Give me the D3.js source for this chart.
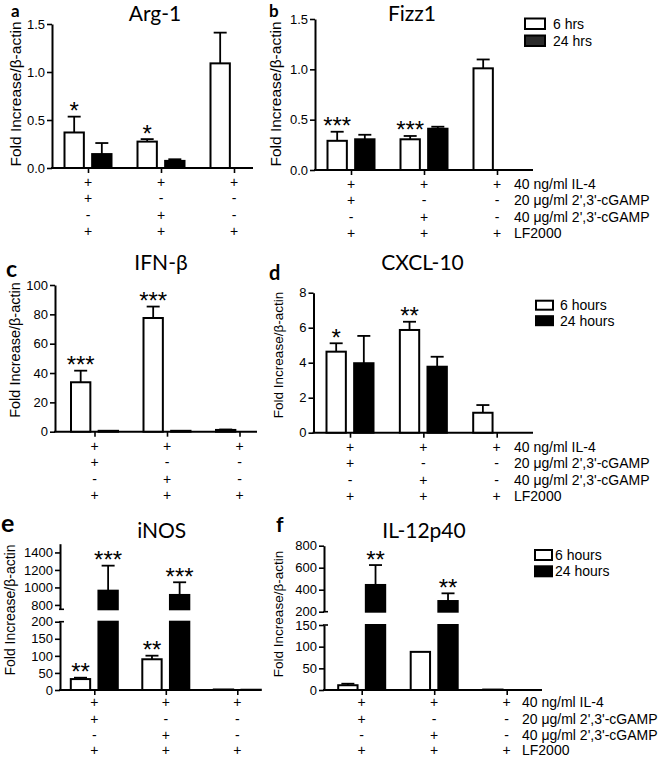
<!DOCTYPE html>
<html><head><meta charset="utf-8">
<script src="https://cdn.jsdelivr.net/npm/d3@7"></script>
<style>body{margin:0;background:#fff} svg{display:block} text.ar{font-family:"Liberation Sans", Arial, sans-serif}</style>
</head><body><svg id="c" width="658" height="757"></svg>
<script>
// ---------- DATA ----------
const groups = ["G1", "G2", "G3"];
const seriesNames = ["early", "late"];
const rowLabels = ["40 ng/ml IL-4", "20 \u03bcg/ml 2',3'-cGAMP", "40 \u03bcg/ml 2',3'-cGAMP", "LF2000"];
const rowSigns = [["+","+","+"], ["+","-","-"], ["-","+","-"], ["+","+","+"]];
const legendHrs = ["6 hrs", "24 hrs"];
const legendHours = ["6 hours", "24 hours"];
const yTitle = "Fold Increase/\u03b2-actin";

const argWhite = [0.37, 0.275, 1.09],  argWhiteErr = [0.165, 0.026, 0.32];
const argBlack = [0.145, 0.074, null], argBlackErr = [0.115, 0.017, null];
const fizzWhite = [0.29, 0.305, 1.01], fizzWhiteErr = [0.09, 0.033, 0.088];
const fizzBlack = [0.305, 0.41, null], fizzBlackErr = [0.045, 0.02, null];
const ifnWhite = [33.7, 77.5, 1.2],    ifnWhiteErr = [7.9, 7.8, 0.3];
const ifnBlack = [0.6, 0.6, null],     ifnBlackErr = [null, null, null];
const cxclWhite = [4.63, 5.87, 1.14],  cxclWhiteErr = [0.48, 0.47, 0.44];
const cxclBlack = [3.97, 3.77, null],  cxclBlackErr = [1.56, 0.57, null];
const inosWhite = [32, 90, 1.5],       inosWhiteErr = [4, 10.5, null];
const inosBlack = [963, 914, 0.8],     inosBlackErr = [286, 145, null];
const il12White = [11, 88, 1],         il12WhiteErr = [3.5, null, null];
const il12Black = [443, 297, null],    il12BlackErr = [181, 70, null];

const argStars = [[0,0,"*"], [1,0,"*"]];
const fizzStars = [[0,0,"***"], [1,0,"***"]];
const ifnStars = [[0,0,"***"], [1,0,"***"]];
const cxclStars = [[0,0,"*"], [1,0,"**"]];
const inosStars = [[0,0,"**"], [0,1,"***"], [1,0,"**"], [1,1,"***"]];
const il12Stars = [[0,1,"**"], [1,1,"**"]];

const ticksFrac = [0, 0.5, 1.0, 1.5];
const ticksIfn = [0, 20, 40, 60, 80, 100];
const ticksCxcl = [0, 2, 4, 6, 8];
const ticksInosLow = [0, 50, 100, 150, 200], ticksInosHigh = [800, 1000, 1200, 1400];
const ticksIlLow = [0, 50, 100, 150], ticksIlHigh = [200, 400, 600, 800];

// ---------- LAYOUT ----------
const TFONT = "Lato, 'Open Sans', sans-serif";
const rowOffsetsTop = [14, 30, 47, 63];
const rowOffsetsBottom = [12.5, 29, 45.5, 60];
const f1 = d3.format(".1f"), fd = d3.format("d");

const panels = [
  {letter:"a", lp:[11,17], ls:17, title:"Arg-1", tp:[155,21], axisX:52,
   segs:[{domain:[0,1.5], range:[168,24], ticks:ticksFrac, fmt:f1}],
   gx:[88,234], xEnd:253, white:argWhite, whiteErr:argWhiteErr, black:argBlack, blackErr:argBlackErr,
   stars:argStars, yl:[16,94,15.5], ro:rowOffsetsTop},
  {letter:"b", lp:[269,17], ls:17, title:"Fizz1", tp:[412,21], axisX:315,
   segs:[{domain:[0,1.5], range:[170,19], ticks:ticksFrac, fmt:f1}],
   gx:[351,497], xEnd:533, white:fizzWhite, whiteErr:fizzWhiteErr, black:fizzBlack, blackErr:fizzBlackErr,
   stars:fizzStars, yl:[276,94,15.5], rows:true, rowX:514, ro:rowOffsetsTop,
   legend:{x:525, y:18.5, w:20, h:10.5, step:17, tx:553, labels:legendHrs, dark:"#2b2b2b"}},
  {letter:"c", lp:[6,277], ls:23, title:"IFN-\u03b2", tp:[161,270], axisX:55,
   segs:[{domain:[0,100], range:[431.7,285], ticks:ticksIfn, fmt:fd}],
   gx:[94.5,239.5], xEnd:257, white:ifnWhite, whiteErr:ifnWhiteErr, black:ifnBlack, blackErr:ifnBlackErr,
   stars:ifnStars, yl:[15,350,14.5], ro:rowOffsetsTop},
  {letter:"d", lp:[269,280], ls:20, title:"CXCL-10", tp:[422.5,270], axisX:313.5,
   segs:[{domain:[0,8], range:[432.7,292.7], ticks:ticksCxcl, fmt:fd}],
   gx:[350,496.7], xEnd:533, white:cxclWhite, whiteErr:cxclWhiteErr, black:cxclBlack, blackErr:cxclBlackErr,
   stars:cxclStars, yl:[278,355,13.5], rows:true, rowX:514, ro:rowOffsetsTop,
   legend:{x:536, y:300.7, w:17, h:9, step:15.5, tx:560, labels:legendHours, dark:"#000"}},
  {letter:"e", lp:[1,532], ls:25, title:"iNOS", tp:[161.7,538], axisX:60,
   segs:[{domain:[0,200], range:[690,621.7], ticks:ticksInosLow, fmt:fd},
         {domain:[750,1500], range:[609.3,543.7], ticks:ticksInosHigh, fmt:fd}],
   gx:[94.3,237.3], xEnd:258, white:inosWhite, whiteErr:inosWhiteErr, black:inosBlack, blackErr:inosBlackErr,
   stars:inosStars, yl:[10,610,14], ro:rowOffsetsBottom},
  {letter:"f", lp:[276,532], ls:21, title:"IL-12p40", tp:[424,538], axisX:324,
   segs:[{domain:[0,150], range:[690,625], ticks:ticksIlLow, fmt:fd},
         {domain:[200,800], range:[611.7,545.7], ticks:ticksIlHigh, fmt:fd}],
   gx:[361.7,506.7], xEnd:542, white:il12White, whiteErr:il12WhiteErr, black:il12Black, blackErr:il12BlackErr,
   stars:il12Stars, yl:[278,614,13.5], rows:true, rowX:522, ro:rowOffsetsBottom,
   legend:{x:535, y:550, w:17, h:10, step:16.3, tx:555, labels:legendHours, dark:"#000"}}
];

const svg = d3.select("#c");

function drawPanel(p) {
  const g = svg.append("g");
  const x = d3.scalePoint().domain(groups).range(p.gx);
  const sub = d3.scaleBand().domain(seriesNames).range([-23.5, 23.5]).paddingInner(0.3);
  const segs = p.segs.map(s => Object.assign({}, s, {scale: d3.scaleLinear().domain(s.domain).range(s.range)}));
  const low = segs[0], high = segs[1];
  const y0 = low.scale(0);
  const yOf = v => (high && v > low.domain[1]) ? high.scale(v) : low.scale(v);

  segs.forEach(s => {
    const ax = g.append("g").attr("transform", `translate(${p.axisX},0)`)
      .call(d3.axisLeft(s.scale).tickValues(s.ticks).tickFormat(s.fmt).tickSize(5).tickSizeOuter(0).tickPadding(2));
    ax.attr("font-family", null).attr("font-size", null);
    ax.select(".domain").attr("stroke-width", 2).attr("stroke", "#000");
    ax.selectAll(".tick line").attr("stroke-width", 1.6).attr("stroke", "#000");
    ax.selectAll(".tick text").attr("class", "ar").attr("font-size", 13).attr("fill", "#000");
  });
  if (high) {
    [high.range[0], low.range[1]].forEach(yy => {
      g.append("line").attr("x1", p.axisX - 1).attr("x2", p.axisX + 4).attr("y1", yy).attr("y2", yy)
        .attr("stroke", "#000").attr("stroke-width", 1.6);
    });
  }
  g.append("line").attr("x1", p.axisX - 1).attr("x2", p.xEnd).attr("y1", y0).attr("y2", y0)
    .attr("stroke", "#000").attr("stroke-width", 2);
  const xa = g.append("g").attr("transform", `translate(0,${y0})`)
    .call(d3.axisBottom(x).tickSize(5).tickFormat(""));
  xa.select(".domain").remove();
  xa.selectAll(".tick line").attr("stroke-width", 1.6).attr("stroke", "#000");

  const series = [
    {name: seriesNames[0], vals: p.white, errs: p.whiteErr, fill: "#fff"},
    {name: seriesNames[1], vals: p.black, errs: p.blackErr, fill: "#000"}
  ];
  const bw = sub.bandwidth();
  const bars = g.append("g");
  series.forEach(s => {
    groups.forEach((gr, i) => {
      const v = s.vals[i];
      if (v == null) return;
      const bx = x(gr) + sub(s.name);
      const cx = bx + bw / 2;
      const e = s.errs[i];
      if (e) {
        const yt = yOf(v + e), yb = yOf(v);
        bars.append("line").attr("x1", cx).attr("x2", cx).attr("y1", yb).attr("y2", yt)
          .attr("stroke", "#000").attr("stroke-width", 1.8);
        bars.append("line").attr("x1", cx - 6.5).attr("x2", cx + 6.5).attr("y1", yt).attr("y2", yt)
          .attr("stroke", "#000").attr("stroke-width", 1.8);
      }
      const lowTop = low.scale(Math.min(v, low.domain[1]));
      bars.append("rect").attr("x", bx).attr("y", lowTop).attr("width", bw).attr("height", Math.max(0, y0 - lowTop))
        .attr("fill", s.fill).attr("stroke", "#000").attr("stroke-width", 2);
      if (high && v > high.domain[0]) {
        const t = high.scale(v);
        bars.append("rect").attr("x", bx).attr("y", t).attr("width", bw).attr("height", high.range[0] - t)
          .attr("fill", s.fill).attr("stroke", "#000").attr("stroke-width", 2);
      }
    });
  });

  p.stars.forEach(([gi, si, txt]) => {
    const s = series[si];
    const v = s.vals[gi], e = s.errs[gi] || 0;
    const cx = x(groups[gi]) + sub(s.name) + bw / 2;
    const yt = yOf(v + e);
    g.append("text").attr("class", "ar").attr("x", cx).attr("y", yt + 2.5).attr("text-anchor", "middle")
      .attr("font-size", 24).attr("fill", "#000").text(txt);
  });

  rowSigns.forEach((row, r) => {
    row.forEach((sgn, i) => {
      g.append("text").attr("class", "ar").attr("x", x(groups[i])).attr("y", y0 + p.ro[r]).attr("dy", "0.35em")
        .attr("text-anchor", "middle").attr("font-size", 14).attr("fill", "#000").text(sgn);
    });
    if (p.rows) {
      g.append("text").attr("class", "ar").attr("x", p.rowX).attr("y", y0 + p.ro[r]).attr("dy", "0.35em")
        .attr("font-size", 14).attr("fill", "#000").text(rowLabels[r]);
    }
  });

  g.append("text").attr("class", "ar").attr("transform", `translate(${p.yl[0]},${p.yl[1]}) rotate(-90)`)
    .attr("text-anchor", "middle").attr("dy", "0.35em")
    .attr("font-size", p.yl[2]).attr("fill", "#000").text(yTitle);

  g.append("text").attr("x", p.tp[0]).attr("y", p.tp[1]).attr("text-anchor", "middle")
    .attr("font-family", TFONT).attr("font-size", 21).attr("fill", "#000").text(p.title);
  g.append("text").attr("x", p.lp[0]).attr("y", p.lp[1])
    .attr("font-family", TFONT).attr("font-weight", "bold").attr("font-size", p.ls).attr("fill", "#000").text(p.letter);

  if (p.legend) {
    const L = p.legend;
    L.labels.forEach((lab, k) => {
      const yy = L.y + k * L.step;
      g.append("rect").attr("x", L.x).attr("y", yy).attr("width", L.w).attr("height", L.h)
        .attr("fill", k === 0 ? "#fff" : L.dark).attr("stroke", "#000").attr("stroke-width", 2);
      g.append("text").attr("class", "ar").attr("x", L.tx).attr("y", yy + L.h / 2).attr("dy", "0.35em")
        .attr("font-size", 14).attr("fill", "#000").text(lab);
    });
  }
}

panels.forEach(drawPanel);
</script>
</body></html>
